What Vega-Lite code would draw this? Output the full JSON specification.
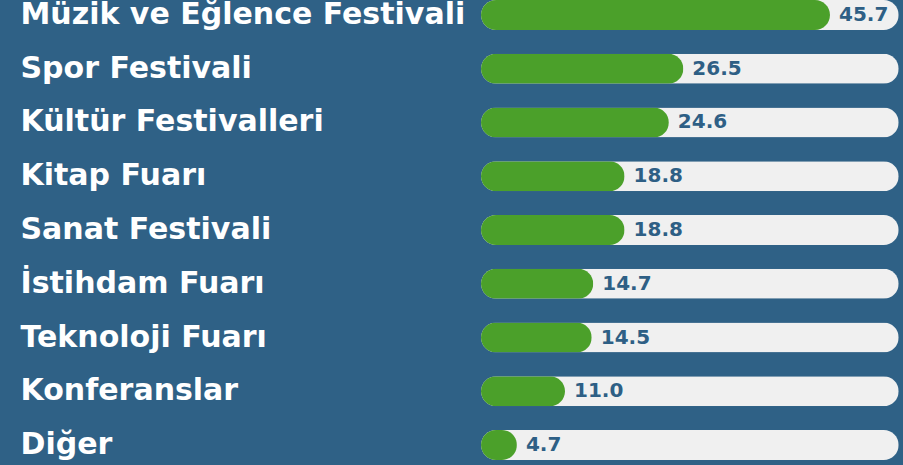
{
  "$schema": "https://vega.github.io/schema/vega-lite/v6.json",
  "width": 420,
  "height": 460,
  "autosize": {"type": "none"},
  "padding": {"left": 481, "top": 0, "right": 2, "bottom": 5},
  "background": "#2f6186",
  "config": {"view": {"stroke": null}},
  "data": {"values": [
    {"kategori": "Müzik ve Eğlence Festivali", "deger": 45.7, "maks": 54.7},
    {"kategori": "Spor Festivali", "deger": 26.5, "maks": 54.7},
    {"kategori": "Kültür Festivalleri", "deger": 24.6, "maks": 54.7},
    {"kategori": "Kitap Fuarı", "deger": 18.8, "maks": 54.7},
    {"kategori": "Sanat Festivali", "deger": 18.8, "maks": 54.7},
    {"kategori": "İstihdam Fuarı", "deger": 14.7, "maks": 54.7},
    {"kategori": "Teknoloji Fuarı", "deger": 14.5, "maks": 54.7},
    {"kategori": "Konferanslar", "deger": 11.0, "maks": 54.7},
    {"kategori": "Diğer", "deger": 4.7, "maks": 54.7}
  ]},
  "encoding": {
    "y": {
      "field": "kategori", "type": "nominal", "sort": null,
      "scale": {"paddingInner": 0.442, "paddingOuter": 0},
      "axis": {
        "title": null, "domain": false, "ticks": false,
        "labelAlign": "left", "labelPadding": 461, "labelLimit": 470,
        "labelColor": "white", "labelFont": "DejaVu Sans", "labelFontWeight": "bold",
        "labelFontSize": 30
      }
    }
  },
  "layer": [
    {
      "mark": {"type": "bar", "color": "#f0f0f0", "cornerRadius": 15},
      "encoding": {
        "x": {"field": "maks", "type": "quantitative", "scale": {"domain": [0, 54.7]}, "axis": null}
      }
    },
    {
      "mark": {"type": "bar", "color": "#4ba02a", "cornerRadius": 15},
      "encoding": {
        "x": {"field": "deger", "type": "quantitative"}
      }
    },
    {
      "mark": {"type": "text", "align": "left", "dx": 9, "color": "#2e5f85", "font": "DejaVu Sans", "fontWeight": "bold", "fontSize": 20},
      "encoding": {
        "x": {"field": "deger", "type": "quantitative"},
        "text": {"field": "deger", "type": "quantitative", "format": ".1f"}
      }
    }
  ]
}
